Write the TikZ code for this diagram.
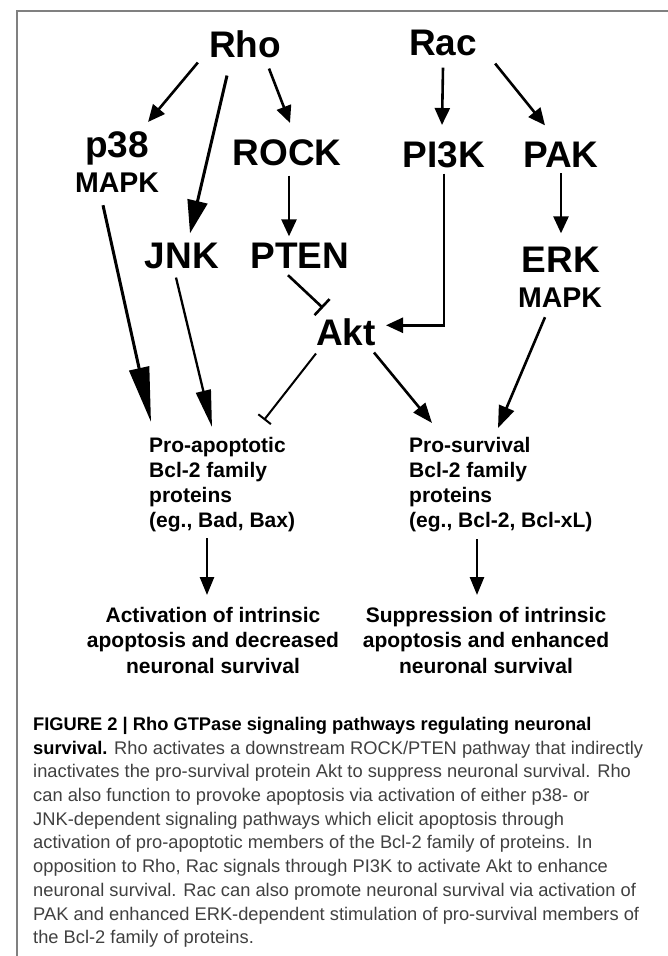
\documentclass[tikz,border=0pt]{standalone}
\usepackage{fontspec}
\setmainfont{Liberation Sans}
\usetikzlibrary{arrows.meta, positioning}

\begin{document}
\begin{tikzpicture}[x=1pt, y=-1pt,
    prot/.style={font=\fontsize{37}{40}\selectfont\bfseries, inner sep=3pt, anchor=base},
    sub/.style={font=\fontsize{28.5}{30}\selectfont\bfseries, inner sep=3pt, anchor=base},
    fam/.style={font=\fontsize{21}{25}\selectfont\bfseries, align=left, inner sep=0pt, anchor=north west},
    outc/.style={font=\fontsize{21}{25.5}\selectfont\bfseries, align=center, inner sep=0pt, anchor=north},
    arr/.style={-{Triangle[length=17pt,width=15pt]}, line width=2.6pt},
    tee/.style={-{Bar[width=22pt,line width=2.6pt]}, line width=2.6pt}]
    \useasboundingbox (0,0) rectangle (668,956);
    \draw[line width=1.8pt, gray] (17,956) |- (668,11);

    % GTPases and kinases
    \node[prot] (rho) at (245,57) {Rho};
    \node[prot] (rac) at (443,55) {Rac};
    \node[prot] (p38) at (117,157) {p38};
    \node[sub] (mapka) at (117,192) {MAPK};
    \node[prot] (rock) at (287,165) {ROCK};
    \node[prot] (pi3k) at (444,167) {PI3K};
    \node[prot] (pak) at (561,167) {PAK};
    \node[prot] (jnk) at (182,268) {JNK};
    \node[prot] (pten) at (300,268) {PTEN};
    \node[prot] (erk) at (561,272) {ERK};
    \node[sub] (mapkb) at (560,307) {MAPK};
    \node[prot] (akt) at (346,345) {Akt};

    % Bcl-2 families and outcomes
    \node[fam] (proapo) at (149,437) {Pro-apoptotic\\Bcl-2 family\\proteins\\(eg., Bad, Bax)};
    \node[fam] (prosurv) at (409,437) {Pro-survival\\Bcl-2 family\\proteins\\(eg., Bcl-2, Bcl-xL)};
    \node[outc] (outl) at (213,607) {Activation of intrinsic\\apoptosis and decreased\\neuronal survival};
    \node[outc] (outr) at (486,607) {Suppression of intrinsic\\apoptosis and enhanced\\neuronal survival};

    \draw[arr] ([xshift=-8pt,yshift=-2pt]rho.south west) -- ([xshift=-4pt,yshift=6pt]p38.north east);
    \draw[arr, -{Triangle[length=33pt,width=20pt]}, line width=3pt] ([xshift=-18pt,yshift=-15pt]rho.south) -- ([xshift=8pt,yshift=6pt]jnk.north);
    \draw[arr] ([xshift=24pt,yshift=-8pt]rho.south) -- ([xshift=3pt,yshift=13pt]rock.north);
    \draw[arr] ([yshift=-9pt]rac.south) -- ([xshift=-2pt,yshift=13pt]pi3k.north);
    \draw[arr] ([xshift=15pt,yshift=-5pt]rac.south east) -- ([xshift=-16pt,yshift=13pt]pak.north);
    \draw[arr] ([xshift=2pt,yshift=-7pt]rock.south) -- ([xshift=-11pt,yshift=3pt]pten.north);
    \draw[arr] ([yshift=-3pt]pak.south) -- ([yshift=10pt]erk.north);
    \draw[tee] ([xshift=-12pt,yshift=-4pt]pten.south) -- ([xshift=10pt,yshift=7pt]akt.north west);
    \draw[arr] ([yshift=-3pt]pi3k.south) |- ([xshift=7pt,yshift=6.5pt]akt.east);

    \draw[arr, -{Triangle[length=55pt,width=20pt]}, line width=3pt] ([xshift=-14pt,yshift=-10pt]mapka.south) -- ([xshift=2pt,yshift=15pt]proapo.north west);
    \draw[arr, -{Triangle[length=37pt,width=15pt]}, line width=2.3pt] ([xshift=-6pt,yshift=-6pt]jnk.south) -- ([xshift=63pt,yshift=10pt]proapo.north west);
    \draw[tee, -{Bar[width=16pt,line width=2pt]}, line width=2pt] ([xshift=3pt,yshift=-5pt]akt.south west) -- ([xshift=115pt,yshift=17pt]proapo.north west);
    \draw[arr, -{Triangle[length=20pt,width=15pt]}] ([xshift=-5pt,yshift=-4pt]akt.south east) -- ([xshift=23pt,yshift=14pt]prosurv.north west);
    \draw[arr, -{Triangle[length=22pt,width=16pt]}] ([xshift=-15pt,yshift=-7pt]mapkb.south) -- ([xshift=89pt,yshift=9pt]prosurv.north west);
    \draw[arr, -{Triangle[length=18pt,width=14pt]}] ([xshift=58pt,yshift=-6pt]proapo.south west) -- ([xshift=-6pt,yshift=12pt]outl.north);
    \draw[arr, -{Triangle[length=18pt,width=14pt]}] ([xshift=68pt,yshift=-7pt]prosurv.south west) -- ([xshift=-9pt,yshift=12pt]outr.north);

    % caption
    \node[font=\fontsize{18.3}{23.7}\selectfont, text=black!75, align=left, inner sep=0pt, anchor=north west] (cap) at (33,717)
      {\textcolor{black}{\textbf{FIGURE 2 | Rho GTPase signaling pathways regulating neuronal}}\\
       \textcolor{black}{\textbf{survival.}} Rho activates a downstream ROCK/PTEN pathway that indirectly\\
       inactivates the pro-survival protein Akt to suppress neuronal survival. Rho\\
       can also function to provoke apoptosis via activation of either p38- or\\
       JNK-dependent signaling pathways which elicit apoptosis through\\
       activation of pro-apoptotic members of the Bcl-2 family of proteins. In\\
       opposition to Rho, Rac signals through PI3K to activate Akt to enhance\\
       neuronal survival. Rac can also promote neuronal survival via activation of\\
       PAK and enhanced ERK-dependent stimulation of pro-survival members of\\
       the Bcl-2 family of proteins.};
\end{tikzpicture}
\end{document}
